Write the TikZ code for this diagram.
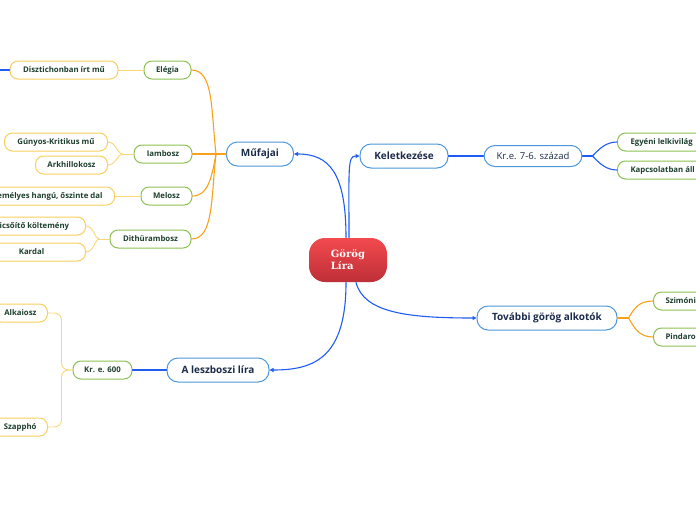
\documentclass[tikz,border=0pt]{standalone}
\usepackage{fontspec}
\setmainfont{Open Sans}
\newfontfamily\rootfont{DejaVu Serif}
\usetikzlibrary{arrows.meta, positioning}
\definecolor{mmBlue}{HTML}{4A97DA}
\definecolor{mmLink}{HTML}{1F5CF2}
\definecolor{mmOrange}{HTML}{F7A11C}
\definecolor{mmYellow}{HTML}{F8CF5E}
\definecolor{mmGreen}{HTML}{8CC152}
\definecolor{mmNavy}{HTML}{1C2B4A}
\definecolor{mmText}{HTML}{1E3F2E}
\definecolor{mmRedTop}{HTML}{F24A4E}
\definecolor{mmRedBot}{HTML}{BE2F37}
\tikzset{
  % one unit is one pixel of the map, y runs downwards
  every picture/.append style = {line width=1pt, line cap=round},
  rootnode/.style  = {rounded corners=16pt, top color=mmRedTop, bottom color=mmRedBot,
                      draw=none, minimum width=78pt, minimum height=44pt, inner sep=0pt,
                      text=white, align=left, font=\rootfont\bfseries\fontsize{10}{12}\selectfont},
  mainnode/.style  = {draw=mmBlue, fill=white, rounded corners=11pt, minimum height=24pt,
                      inner sep=0pt, text=mmNavy, font=\bfseries\fontsize{10}{12}\selectfont},
  subnode/.style   = {draw=mmGreen, fill=white, rounded corners=8pt, minimum height=18pt,
                      inner sep=0pt, text=mmText, font=\bfseries\fontsize{7.8}{9}\selectfont},
  leafnode/.style  = {subnode, draw=mmYellow},
  link/.style      = {mmLink, line width=1.1pt},
  tiplink/.style   = {link, -{Triangle[length=4pt, width=4pt]}},
  branch/.style    = {mmOrange, line width=1.1pt},
  twig/.style      = {mmYellow!85, line width=0.9pt},
}

\begin{document}
\begin{tikzpicture}[x=1pt, y=-1pt]
  \path[use as bounding box] (0,0) rectangle (696,520);
  \clip (0,0) rectangle (696,520);

  % centre
  \node[rootnode] (lira) at (348,260) {Görög\\Líra};

  % first level
  \node[mainnode, minimum width=67pt]  (mufajai) at (260,154) {Műfajai};
  \node[mainnode, minimum width=88pt]  (keletkezes) at (404,156) {Keletkezése};
  \node[mainnode, minimum width=140pt] (tovabbi) at (547,318) {További görög alkotók};
  \node[mainnode, minimum width=102pt] (leszbosz) at (218,370) {A leszboszi líra};

  \draw[tiplink] ([xshift=-2pt]lira.north) .. controls +(0,-65) and +(35,0) .. (mufajai.east);
  \draw[tiplink] ([xshift=1pt]lira.north) .. controls +(0,-70) and +(-12,0) .. (keletkezes.west);
  \draw[tiplink] ([xshift=8pt]lira.south) .. controls +(8,30) and +(-70,0) .. (tovabbi.west);
  \draw[tiplink] ([xshift=-2pt]lira.south) .. controls +(0,75) and +(45,0) .. (leszbosz.east);

  % genres
  \node[subnode, minimum width=47pt] (elegia) at (167.5,70) {Elégia};
  \node[subnode, minimum width=58pt] (iambosz) at (163,154) {Iambosz};
  \node[subnode, minimum width=51pt] (melosz) at (166.5,196) {Melosz};
  \node[subnode, minimum width=81pt] (dith) at (150.5,239) {Dithürambosz};

  \draw[branch] (mufajai.west) -- ++(-10,0) coordinate (fork1);
  \draw[branch] (fork1) .. controls +(-5,-45) and +(22,0) .. (elegia.east);
  \draw[branch] (fork1) -- (iambosz.east);
  \draw[branch] (fork1) .. controls +(-4,22) and +(16,0) .. (melosz.east);
  \draw[branch] (fork1) .. controls +(-5,45) and +(22,0) .. (dith.east);

  \node[leafnode, minimum width=108pt] (diszt) at (64,70) {Disztichonban írt mű};
  \coordinate (offleft) at (-12,70);
  \draw[twig] (elegia.west) -- (diszt.east);
  \draw[link] (diszt.west) -- (offleft);

  \node[leafnode, minimum width=103pt, anchor=east] (gunyos) at (108,142) {Gúnyos-Kritikus mű};
  \node[leafnode, minimum width=72pt, anchor=east] (arkhi) at (108,165) {Arkhillokosz};
  \draw[twig] (iambosz.west) -- ++(-11,0) coordinate (fork2);
  \draw[twig] (fork2) .. controls +(-5,0) and +(8,0) .. (gunyos.east);
  \draw[twig] (fork2) .. controls +(-5,0) and +(8,0) .. (arkhi.east);

  \node[leafnode, inner xsep=12pt, anchor=east] (dal) at (115,196) {Személyes hangú, őszinte dal};
  \draw[twig] (melosz.west) -- (dal.east);

  \node[leafnode, minimum width=108pt, anchor=east] (dicso) at (86,226) {Dicsőítő költemény};
  \node[leafnode, minimum width=108pt, anchor=east] (kardal) at (86,252) {Kardal};
  \draw[twig] (dith.west) -- ++(-10,0) coordinate (fork3);
  \draw[twig] (fork3) .. controls +(-5,0) and +(8,0) .. (dicso.east);
  \draw[twig] (fork3) .. controls +(-5,0) and +(8,0) .. (kardal.east);

  % origin
  \node[mainnode, minimum width=98pt, font=\fontsize{9.5}{11}\selectfont, minimum height=21pt]
    (kre) at (533,156) {Kr.e. 7-6. század};
  \draw[link] (keletkezes.east) -- (kre.west);
  \node[subnode, inner xsep=13pt, anchor=west] (egyeni) at (617,142) {Egyéni lelkivilág};
  \node[subnode, inner xsep=13pt, anchor=west] (kapcs) at (617,170) {Kapcsolatban áll};
  \draw[link] (kre.east) -- ++(10,0) coordinate (fork4);
  \draw[link] (fork4) .. controls +(6,-6) and +(-12,0) .. (egyeni.west);
  \draw[link] (fork4) .. controls +(6,6) and +(-12,0) .. (kapcs.west);

  % other poets
  \node[subnode, inner xsep=12pt, anchor=west] (szimonid) at (653,301) {Szimónidész};
  \node[subnode, inner xsep=12pt, anchor=west] (pindarosz) at (653,337) {Pindarosz};
  \draw[branch] (tovabbi.east) -- ++(11,0) coordinate (fork5);
  \draw[branch] (fork5) .. controls +(6,-10) and +(-14,0) .. (szimonid.west);
  \draw[branch] (fork5) .. controls +(6,10) and +(-14,0) .. (pindarosz.west);

  % Lesbos
  \node[subnode, minimum width=59pt] (kr600) at (102.5,370) {Kr. e. 600};
  \draw[link] (leszbosz.west) -- (kr600.east);
  \node[leafnode, inner xsep=11pt, anchor=east] (alkaiosz) at (48,313) {Alkaiosz};
  \node[leafnode, inner xsep=11pt, anchor=east] (szappho) at (48,427) {Szapphó};
  \draw[twig, rounded corners=7pt] (kr600.west) -- ++(-11,0) -- ++(0,-57) -- (alkaiosz.east);
  \draw[twig, rounded corners=7pt] (kr600.west) -- ++(-11,0) -- ++(0,57) -- (szappho.east);
\end{tikzpicture}
\end{document}
